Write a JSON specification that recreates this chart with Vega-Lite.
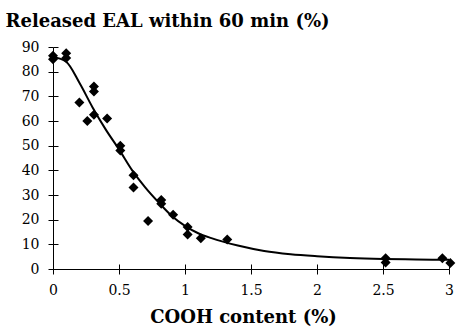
{
  "$schema": "https://vega.github.io/schema/vega-lite/v6.json",
  "width": 396,
  "height": 222,
  "autosize": "none",
  "padding": {"left": 53, "top": 47, "right": 8, "bottom": 66},
  "background": "white",
  "config": {
    "view": {"stroke": null},
    "axis": {
      "domainColor": "black",
      "tickColor": "black",
      "labelColor": "black",
      "titleColor": "black",
      "labelFont": "DejaVu Serif",
      "titleFont": "DejaVu Serif",
      "labelFlush": false,
      "labelOverlap": false,
      "grid": false
    }
  },
  "datasets": {
    "obs": [
      {"x": 0, "y": 86.5}, {"x": 0, "y": 85},
      {"x": 0.1, "y": 87.5}, {"x": 0.1, "y": 85.5},
      {"x": 0.2, "y": 67.5}, {"x": 0.26, "y": 60},
      {"x": 0.31, "y": 74}, {"x": 0.31, "y": 72}, {"x": 0.31, "y": 62.5},
      {"x": 0.41, "y": 61},
      {"x": 0.51, "y": 50}, {"x": 0.51, "y": 48},
      {"x": 0.61, "y": 38}, {"x": 0.61, "y": 33},
      {"x": 0.72, "y": 19.5},
      {"x": 0.82, "y": 28}, {"x": 0.82, "y": 26.5},
      {"x": 0.91, "y": 22},
      {"x": 1.02, "y": 17}, {"x": 1.02, "y": 14},
      {"x": 1.12, "y": 12.5}, {"x": 1.32, "y": 12},
      {"x": 2.52, "y": 4.4}, {"x": 2.52, "y": 2.6},
      {"x": 2.95, "y": 4.4}, {"x": 3.01, "y": 2.4}
    ],
    "fit": [
      {"x": 0, "y": 86}, {"x": 0.1, "y": 84}, {"x": 0.2, "y": 75.5},
      {"x": 0.3, "y": 65.5}, {"x": 0.4, "y": 56.5}, {"x": 0.5, "y": 48.5},
      {"x": 0.6, "y": 40}, {"x": 0.7, "y": 33}, {"x": 0.8, "y": 27},
      {"x": 0.9, "y": 21.5}, {"x": 1.0, "y": 17.5}, {"x": 1.1, "y": 14.5},
      {"x": 1.2, "y": 12.5}, {"x": 1.4, "y": 9.5}, {"x": 1.6, "y": 7.3},
      {"x": 1.8, "y": 6}, {"x": 2.0, "y": 5.2}, {"x": 2.25, "y": 4.5},
      {"x": 2.5, "y": 4.1}, {"x": 2.75, "y": 3.9}, {"x": 3.0, "y": 3.7}
    ]
  },
  "layer": [
    {
      "data": {"name": "fit"},
      "mark": {"type": "line", "color": "black", "strokeWidth": 2, "interpolate": "monotone", "clip": false},
      "encoding": {
        "x": {
          "field": "x", "type": "quantitative",
          "scale": {"domain": [0, 3], "nice": false, "zero": false},
          "axis": {
            "values": [0, 0.5, 1, 1.5, 2, 2.5, 3],
            "tickSize": -5,
            "labels": false,
            "domain": false,
            "title": null
          }
        },
        "y": {
          "field": "y", "type": "quantitative",
          "scale": {"domain": [0, 90], "nice": false},
          "axis": {
            "orient": "left",
            "values": [0, 10, 20, 30, 40, 50, 60, 70, 80, 90],
            "tickSize": -5,
            "labels": false,
            "domain": false,
            "title": null
          }
        }
      }
    },
    {
      "data": {"name": "obs"},
      "mark": {"type": "point", "shape": "diamond", "filled": true, "color": "black", "size": 100, "opacity": 1, "clip": false},
      "encoding": {
        "x": {
          "field": "x", "type": "quantitative",
          "axis": {
            "orient": "bottom",
            "values": [0, 0.5, 1, 1.5, 2, 2.5, 3],
            "format": "~g",
            "tickSize": 5,
            "labelPadding": 9,
            "labelFontSize": 14,
            "title": "COOH content (%)",
            "titleFontSize": 18,
            "titleFontWeight": "bold",
            "titleX": 190,
            "titleY": 53,
            "titleBaseline": "alphabetic",
            "titleAlign": "center"
          }
        },
        "y": {
          "field": "y", "type": "quantitative",
          "axis": {
            "orient": "left",
            "values": [0, 10, 20, 30, 40, 50, 60, 70, 80, 90],
            "tickSize": 5,
            "labelPadding": 9,
            "labelFontSize": 14,
            "title": "Released EAL within 60 min (%)",
            "titleFontSize": 18,
            "titleFontWeight": "bold",
            "titleAngle": 0,
            "titleAlign": "left",
            "titleBaseline": "alphabetic",
            "titleX": -48,
            "titleY": -21
          }
        }
      }
    }
  ],
  "resolve": {"axis": {"x": "independent", "y": "independent"}}
}
